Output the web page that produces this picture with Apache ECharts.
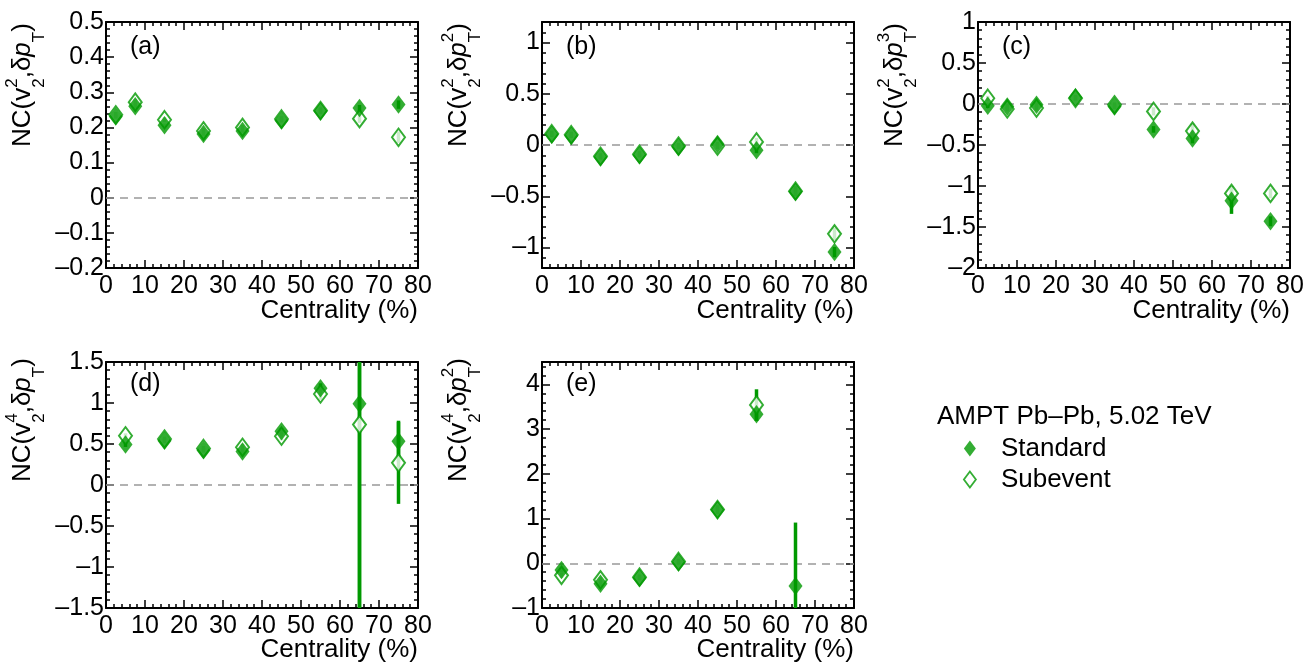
<!DOCTYPE html>
<html><head><meta charset="utf-8">
<script src="https://cdn.jsdelivr.net/npm/echarts@6/dist/echarts.min.js"></script>
<style>html,body{margin:0;padding:0;background:#fff}#c{width:1306px;height:666px}</style>
</head><body><div id="c"></div>
<script>
// ---------------- data ----------------
const xCentABC = [2.5, 7.5, 15, 25, 35, 45, 55, 65, 75];
const xCentDE = [5, 15, 25, 35, 45, 55, 65, 75];
const xTicks = [0, 10, 20, 30, 40, 50, 60, 70, 80];

// (a) NC(v2^2, dpT)
const aStd = [0.231, 0.26, 0.206, 0.181, 0.19, 0.22, 0.246, 0.255, 0.265];
const aSub = [0.236, 0.272, 0.222, 0.19, 0.2, 0.224, 0.248, 0.225, 0.172];
const aStdErr = [0.006, 0.006, 0.005, 0.005, 0.005, 0.006, 0.007, 0.009, 0.012];
const aSubErr = [0.008, 0.008, 0.007, 0.007, 0.007, 0.008, 0.009, 0.012, 0.016];
const aTicks = [-0.2, -0.1, 0, 0.1, 0.2, 0.3, 0.4, 0.5];

// (b) NC(v2^2, dpT^2)
const bStd = [0.10, 0.09, -0.12, -0.10, -0.02, 0.01, -0.05, -0.455, -1.045];
const bSub = [0.11, 0.10, -0.11, -0.09, -0.01, -0.01, 0.03, -0.45, -0.867];
const bStdErr = [0.02, 0.02, 0.02, 0.02, 0.02, 0.02, 0.03, 0.04, 0.05];
const bSubErr = [0.03, 0.03, 0.03, 0.03, 0.03, 0.03, 0.04, 0.05, 0.06];
const bTicks = [-1, -0.5, 0, 0.5, 1];

// (c) NC(v2^2, dpT^3)
const cStd = [-0.02, -0.03, -0.01, 0.08, -0.03, -0.31, -0.42, -1.18, -1.43];
const cSub = [0.07, -0.06, -0.05, 0.07, -0.01, -0.09, -0.33, -1.09, -1.09];
const cStdErr = [0.03, 0.03, 0.03, 0.03, 0.03, 0.04, 0.06, 0.16, 0.06];
const cSubErr = [0.03, 0.03, 0.03, 0.03, 0.03, 0.05, 0.09, 0.09, 0.06];
const cTicks = [-2, -1.5, -1, -0.5, 0, 0.5, 1];

// (d) NC(v2^4, dpT)
const dStd = [0.494, 0.54, 0.425, 0.41, 0.656, 1.18, 0.99, 0.534];
const dSub = [0.6, 0.56, 0.445, 0.46, 0.595, 1.11, 0.737, 0.27];
const dStdErr = [0.03, 0.03, 0.03, 0.03, 0.04, 0.06, 3.2, 0.25];
const dSubErr = [0.03, 0.03, 0.03, 0.04, 0.05, 0.07, 2.5, 0.5];
const dTicks = [-1.5, -1, -0.5, 0, 0.5, 1, 1.5];

// (e) NC(v2^4, dpT^2)
const eStd = [-0.15, -0.46, -0.33, 0.02, 1.19, 3.33, -0.51, null];
const eSub = [-0.27, -0.37, -0.31, 0.04, 1.2, 3.54, null, null];
const eStdErr = [0.05, 0.05, 0.05, 0.05, 0.08, 0.15, 1.42, null];
const eSubErr = [0.06, 0.06, 0.06, 0.06, 0.1, 0.35, null, null];
const eTicks = [-1, 0, 1, 2, 3, 4];

const panelLabels = ['(a)', '(b)', '(c)', '(d)', '(e)'];
const xTitle = 'Centrality (%)';
const legendHeader = 'AMPT Pb\u2013Pb, 5.02 TeV';
const seriesNames = ['Standard', 'Subevent'];

// ---------------- styling / layout ----------------
const FONT = '"Liberation Sans", Arial, Helvetica, sans-serif';
const GREEN = '#009900';
const GW = 312, GH = 246;
const gridPos = [[106, 22], [542, 22], [978, 22], [106, 362], [542, 362]];

const panels = [
  {x: xCentABC, std: aStd, sub: aSub, stdErr: aStdErr, subErr: aSubErr, ticks: aTicks, yMin: -0.2, yMax: 0.5, step: 0.1,
   title: [{t: 'NC(v'}, {sup: '2', sub: '2'}, {t: ',\u03b4'}, {t: 'p', it: 1}, {sub: 'T'}, {t: ')'}]},
  {x: xCentABC, std: bStd, sub: bSub, stdErr: bStdErr, subErr: bSubErr, ticks: bTicks, yMin: -1.2, yMax: 1.2, step: 0.5,
   title: [{t: 'NC(v'}, {sup: '2', sub: '2'}, {t: ',\u03b4'}, {t: 'p', it: 1}, {sup: '2', sub: 'T'}, {t: ')'}]},
  {x: xCentABC, std: cStd, sub: cSub, stdErr: cStdErr, subErr: cSubErr, ticks: cTicks, yMin: -2, yMax: 1, step: 0.5,
   title: [{t: 'NC(v'}, {sup: '2', sub: '2'}, {t: ',\u03b4'}, {t: 'p', it: 1}, {sup: '3', sub: 'T'}, {t: ')'}]},
  {x: xCentDE, std: dStd, sub: dSub, stdErr: dStdErr, subErr: dSubErr, ticks: dTicks, yMin: -1.5, yMax: 1.5, step: 0.5,
   title: [{t: 'NC(v'}, {sup: '4', sub: '2'}, {t: ',\u03b4'}, {t: 'p', it: 1}, {sub: 'T'}, {t: ')'}]},
  {x: xCentDE, std: eStd, sub: eSub, stdErr: eStdErr, subErr: eSubErr, ticks: eTicks, yMin: -1, yMax: 4.5, step: 1,
   title: [{t: 'NC(v'}, {sup: '4', sub: '2'}, {t: ',\u03b4'}, {t: 'p', it: 1}, {sup: '2', sub: 'T'}, {t: ')'}]}
];

function fmt(v) {
  const r = Math.round(v * 1000) / 1000;
  return (r === 0 ? '0' : String(r)).replace('-', '\u2013');
}

const lineStyle = {color: '#000', width: 2};
const tickStyle = {color: '#000', width: 1.5};

function xAx(gi, pos) {
  return {
    type: 'value', gridIndex: gi, position: pos, min: xTicks[0], max: xTicks[xTicks.length - 1],
    interval: xTicks[1] - xTicks[0],
    axisLine: {show: true, onZero: false, lineStyle},
    axisTick: {show: true, inside: true, length: 8, lineStyle: tickStyle},
    minorTick: {show: true, splitNumber: 5, length: 4, lineStyle: tickStyle},
    axisLabel: {show: pos === 'bottom', margin: 6, fontSize: 25, fontFamily: FONT, color: '#000',
      formatter: fmt, showMinLabel: true, showMaxLabel: true},
    splitLine: {show: false}, minorSplitLine: {show: false}
  };
}
function yAx(gi, pos, p) {
  const t = p.ticks;
  return {
    type: 'value', gridIndex: gi, position: pos, min: p.yMin, max: p.yMax,
    splitNumber: 5, minInterval: p.step, maxInterval: p.step,
    axisLine: {show: true, onZero: false, lineStyle},
    axisTick: {show: true, inside: true, length: 8, lineStyle: tickStyle},
    minorTick: {show: true, splitNumber: 5, length: 4, lineStyle: tickStyle},
    axisLabel: {show: pos === 'left', margin: 2, fontSize: 25, fontFamily: FONT, color: '#000',
      formatter: fmt,
      showMinLabel: Math.abs(t[0] - p.yMin) < 1e-9,
      showMaxLabel: Math.abs(t[t.length - 1] - p.yMax) < 1e-9},
    splitLine: {show: false}, minorSplitLine: {show: false}
  };
}

function renderErr(params, api) {
  const x = api.value(0), y = api.value(1), e = api.value(2);
  const cs = params.coordSys;
  const a = api.coord([x, y + e]), b = api.coord([x, y - e]);
  const clamp = v => Math.max(cs.y, Math.min(cs.y + cs.height, v));
  return {type: 'line', shape: {x1: a[0], y1: clamp(a[1]), x2: a[0], y2: clamp(b[1])},
    style: {stroke: GREEN, lineWidth: 3.5}};
}
function errData(xs, ys, es) {
  const out = [];
  xs.forEach((x, i) => { if (ys[i] != null && es[i] != null) out.push([x, ys[i], es[i]]); });
  return out;
}
function ptData(xs, ys) {
  const out = [];
  xs.forEach((x, i) => { if (ys[i] != null) out.push([x, ys[i]]); });
  return out;
}

// text measurement for axis titles
const mctx = document.createElement('canvas').getContext('2d');
function tw(text, font) { mctx.font = font; return mctx.measureText(text).width; }
const MAIN = 26, SMALL = 17;
function yTitle(bx, by, tokens) {
  const children = [];
  let cur = 0;
  const mid = fs => -0.3465 * fs;
  tokens.forEach(tok => {
    if (tok.t) {
      const font = (tok.it ? 'italic ' : '') + MAIN + 'px ' + FONT;
      children.push({type: 'text', x: cur, y: mid(MAIN),
        style: {text: tok.t, font, fill: '#000', align: 'left', verticalAlign: 'middle'}});
      cur += tw(tok.t, font);
    } else {
      const font = SMALL + 'px ' + FONT;
      let w = 0;
      if (tok.sup) {
        children.push({type: 'text', x: cur, y: -14 + mid(SMALL),
          style: {text: tok.sup, font, fill: '#000', align: 'left', verticalAlign: 'middle'}});
        w = Math.max(w, tw(tok.sup, font));
      }
      if (tok.sub) {
        children.push({type: 'text', x: cur, y: 13 + mid(SMALL),
          style: {text: tok.sub, font, fill: '#000', align: 'left', verticalAlign: 'middle'}});
        w = Math.max(w, tw(tok.sub, font));
      }
      cur += w;
    }
  });
  return {type: 'group', x: bx, y: by, rotation: Math.PI / 2, silent: true, children};
}

const grids = [], xAxes = [], yAxes = [], series = [], graphics = [];
panels.forEach((p, i) => {
  const [L, T] = gridPos[i];
  const row2 = T > 100;
  grids.push({left: L, top: T, width: GW, height: GH, containLabel: false, outerBoundsMode: 'none'});
  xAxes.push(xAx(i, 'bottom'), xAx(i, 'top'));
  yAxes.push(yAx(i, 'left', p), yAx(i, 'right', p));
  const xi = 2 * i, yi = 2 * i;
  series.push({type: 'custom', xAxisIndex: xi, yAxisIndex: yi, z: 2, silent: true,
    renderItem: renderErr, encode: {x: 0, y: 1}, data: errData(p.x, p.sub, p.subErr)});
  series.push({type: 'custom', xAxisIndex: xi, yAxisIndex: yi, z: 2, silent: true,
    renderItem: renderErr, encode: {x: 0, y: 1}, data: errData(p.x, p.std, p.stdErr)});
  series.push({type: 'scatter', name: seriesNames[1], xAxisIndex: xi, yAxisIndex: yi, z: 3, silent: true,
    symbol: 'diamond', symbolSize: [13, 17.5],
    itemStyle: {color: '#fff', borderColor: GREEN, borderWidth: 2},
    data: ptData(p.x, p.sub),
    markLine: {silent: true, z: 1, symbol: 'none', label: {show: false}, animation: false,
      lineStyle: {type: [8, 6], color: '#999', width: 1.5}, emphasis: {disabled: true},
      data: [{yAxis: 0}]}
  });
  series.push({type: 'scatter', name: seriesNames[0], xAxisIndex: xi, yAxisIndex: yi, z: 4, silent: true,
    symbol: 'diamond', symbolSize: [14, 18.5],
    itemStyle: {color: GREEN},
    data: ptData(p.x, p.std)});

  // panel label
  graphics.push({type: 'text', x: L + 24, y: T + (row2 ? 22 : 25), silent: true,
    style: {text: panelLabels[i], font: '25px ' + FONT, fill: '#000', align: 'left', verticalAlign: 'middle'}});
  // x title
  graphics.push({type: 'text', x: L + GW, y: T + GH + (row2 ? 42 : 43), silent: true,
    style: {text: xTitle, font: MAIN + 'px ' + FONT, fill: '#000', align: 'right', verticalAlign: 'middle'}});
  // y title
  graphics.push(yTitle(L - 74, row2 ? 482 : 147, p.title));
});

graphics.push({type: 'text', x: 937, y: 416.5, silent: true,
  style: {text: legendHeader, font: MAIN + 'px ' + FONT, fill: '#000', align: 'left', verticalAlign: 'middle'}});

const chart = echarts.init(document.getElementById('c'), null, {renderer: 'canvas'});
chart.setOption({
  animation: false,
  backgroundColor: '#fff',
  grid: grids,
  xAxis: xAxes,
  yAxis: yAxes,
  series,
  graphic: graphics,
  legend: {
    orient: 'vertical', left: 963, top: 434, padding: 0,
    itemWidth: 12, itemHeight: 16, itemGap: 2, selectedMode: false,
    textStyle: {fontSize: MAIN, fontFamily: FONT, color: '#000', lineHeight: 29, padding: [0, 0, 0, 20]},
    data: [
      {name: seriesNames[0], icon: 'diamond', itemStyle: {color: GREEN}},
      {name: seriesNames[1], icon: 'diamond', itemStyle: {color: '#fff', borderColor: GREEN, borderWidth: 1.8}}
    ]
  }
});
</script>
</body></html>
